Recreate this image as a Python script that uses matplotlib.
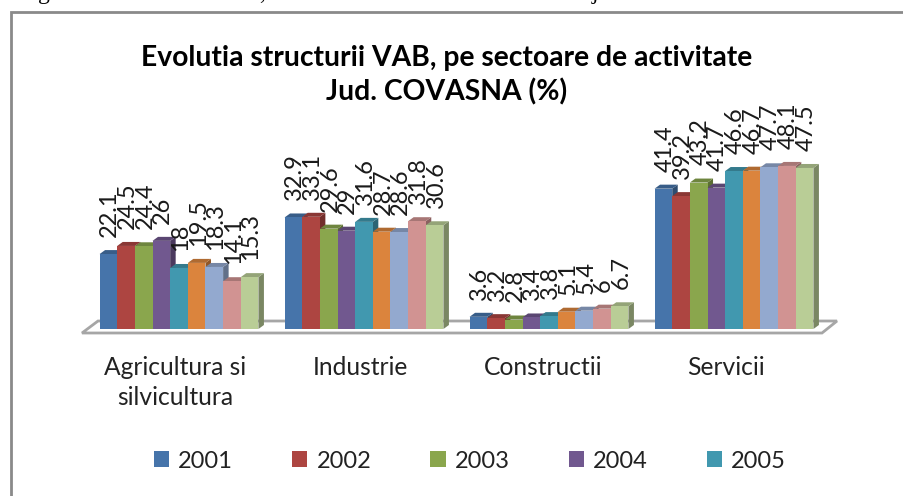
import matplotlib
matplotlib.use('Agg')
import matplotlib.pyplot as plt
from matplotlib.lines import Line2D
from matplotlib.patches import Patch, Polygon
import matplotlib.colors as mcolors

plt.rcParams['font.family'] = ['Lato', 'DejaVu Sans']

categories = ['Agricultura si\nsilvicultura', 'Industrie', 'Constructii', 'Servicii']
years = ['2001', '2002', '2003', '2004', '2005', '2006', '2007', '2008', '2009']
agricultura = [22.1, 24.5, 24.4, 26, 18, 19.5, 18.3, 14.1, 15.3]
industrie = [32.9, 33.1, 29.6, 29, 31.6, 28.7, 28.6, 31.8, 30.6]
constructii = [3.6, 3.2, 2.8, 3.4, 3.8, 5.1, 5.4, 6, 6.7]
servicii = [41.4, 39.2, 43.2, 41.7, 46.6, 46.7, 47.7, 48.1, 47.5]
colors = ['#4674aa', '#ad4541', '#8aa64d', '#71588f', '#4198af',
          '#db843d', '#93a9cf', '#d19392', '#b9cd96']

W, H = 904, 496
PX_CAT = 185.0    # pixels between groups
PX_UNIT = 3.39    # pixels for one percent
YMAX = 60
LEFT = 86.5
BASE = 329

fig = plt.figure(figsize=(W / 100, H / 100), dpi=100)
fig.patch.set_facecolor('white')
ax = fig.add_axes([LEFT / W, 1 - BASE / H, 4 * PX_CAT / W, YMAX * PX_UNIT / H])
ax.set_xlim(-0.5, 3.5)
ax.set_ylim(0, YMAX)
ax.axis('off')

dx = 5.5 / PX_CAT   # depth of the fake 3d
dy = 4.0 / PX_UNIT
bar_w = 17.65 / PX_CAT

# frame, only top and left are inside the picture
fig.add_artist(Line2D([11 / W, 11 / W, 1], [0, 1 - 12 / H, 1 - 12 / H],
                      color='#8a8a8a', lw=2.0, solid_joinstyle='miter'))

# floor
fx = lambda p: -0.5 + (p - LEFT) / PX_CAT
fy = lambda p: (BASE - p) / PX_UNIT
floor = [(fx(82), fy(333)), (fx(98), fy(321)), (fx(837), fy(321)), (fx(822), fy(333))]
ax.add_patch(Polygon(floor, closed=True, fc='white', ec='#a6a6a6', lw=2.0,
                     clip_on=False, joinstyle='miter'))


def shade(c, f):
    r, g, b = mcolors.to_rgb(c)
    return (r * f, g * f, b * f)


rows = [agricultura, industrie, constructii, servicii]
for i, row in enumerate(rows):
    for j, v in enumerate(row):
        x = i + (j - 4) * bar_w
        x0, x1 = x - bar_w / 2, x + bar_w / 2
        side = [(x1, 0), (x1 + dx, dy), (x1 + dx, v + dy), (x1, v)]
        top = [(x0, v), (x0 + dx, v + dy), (x1 + dx, v + dy), (x1, v)]
        ax.add_patch(Polygon(side, closed=True, fc=shade(colors[j], 0.66), ec='none', clip_on=False))
        ax.add_patch(Polygon(top, closed=True, fc=shade(colors[j], 0.8), ec='none', clip_on=False))
        ax.bar(x, v, width=bar_w, color=colors[j], clip_on=False)
        ax.annotate(str(v), (x, v), xytext=(1, 12.3), textcoords='offset points',
                    rotation=90, ha='center', va='bottom', fontsize=17, color='#1a1a1a',
                    annotation_clip=False)

label_px = [175, 360, 543, 726]
for name, p in zip(categories, label_px):
    ax.text(fx(p), fy(356), name, ha='center', va='top', fontsize=17.75, color='#222222',
            linespacing=1.36)

fig.text(447 / W, 1 - 66 / H, 'Evolutia structurii VAB, pe sectoare de activitate',
         ha='center', va='baseline', fontsize=20.3, fontweight='bold', color='black')
fig.text(447 / W, 1 - 100 / H, 'Jud. COVASNA (%)',
         ha='center', va='baseline', fontsize=20.3, fontweight='bold', color='black')

# only the first five years fit in the legend
handles = [Patch(fc=colors[k], ec='none', label=years[k]) for k in range(5)]
fig.legend(handles=handles, ncol=5, frameon=False, loc='center', fontsize=17,
           bbox_to_anchor=(470 / W, 1 - 461 / H), handlelength=0.65, handleheight=0.65,
           handletextpad=0.38, columnspacing=2.505, labelcolor='#222222')

# descenders of the text line cut off above the chart
for ch, p in zip(['g', ',', 'j'], [44, 262, 595]):
    fig.text(p / W, 1 + 1 / H, ch, ha='center', va='baseline', fontsize=17,
             family='Liberation Serif', color='black')

fig.savefig('out.png', dpi=100)
